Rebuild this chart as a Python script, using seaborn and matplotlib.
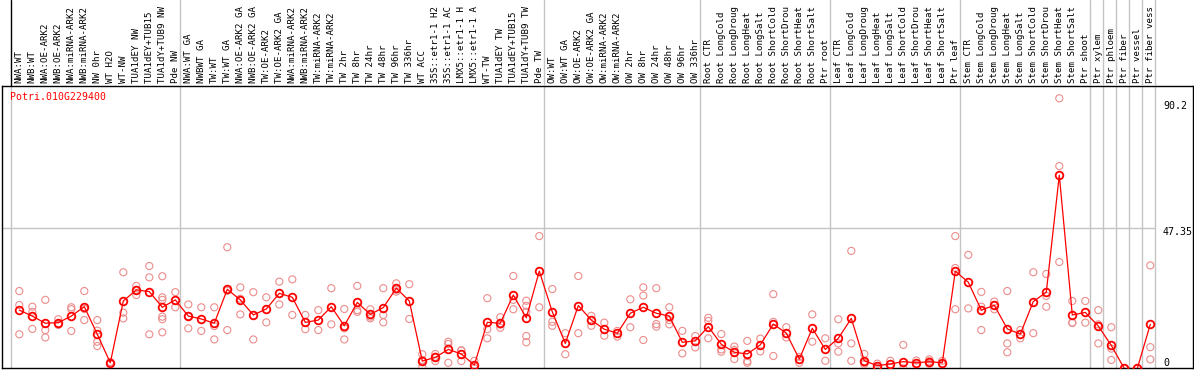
import numpy as np
import pandas as pd
import matplotlib.pyplot as plt
import seaborn as sns

# ---- data ----
gene = "Potri.010G229400"

samples = [
    "NWA:WT", "NWB:WT", "NWA:OE-ARK2", "NWB:OE-ARK2", "NWA:miRNA-ARK2", "NWB:miRNA-ARK2",
    "NW 0hr", "WT H2O", "WT-NW", "TUA1dEY NW", "TUA1dEY+TUB15 NW", "TUA1dY+TUB9 NW", "Pde NW",
    "NWA:WT GA", "NWBWT GA", "TW:WT", "TW:WT GA", "NWA:OE-ARK2 GA", "NWB:OE-ARK2 GA",
    "TW:OE-ARK2", "TW:OE-ARK2 GA", "NWA:miRNA-ARK2", "NWB:miRNA-ARK2", "TW:miRNA-ARK2",
    "TW:miRNA-ARK2", "TW 2hr", "TW 8hr", "TW 24hr", "TW 48hr", "TW 96hr", "TW 336hr",
    "WT ACC", "35S::etr1-1 H2O", "35S::etr1-1 ACC", "LMX5::etr1-1 H2O", "LMX5::etr1-1 ACC",
    "WT-TW", "TUA1dEY TW", "TUA1dEY+TUB15 TW", "TUA1dY+TUB9 TW", "Pde TW",
    "OW:WT", "OW:WT GA", "OW:OE-ARK2", "OW:OE-ARK2 GA", "OW:miRNA-ARK2", "OW:miRNA-ARK2",
    "OW 2hr", "OW 8hr", "OW 24hr", "OW 48hr", "OW 96hr", "OW 336hr",
    "Root CTR", "Root LongCold", "Root LongDrought", "Root LongHeat", "Root LongSalt",
    "Root ShortCold", "Root ShortDrought", "Root ShortHeat", "Root ShortSalt", "Ptr root",
    "Leaf CTR", "Leaf LongCold", "Leaf LongDrought", "Leaf LongHeat", "Leaf LongSalt",
    "Leaf ShortCold", "Leaf ShortDrought", "Leaf ShortHeat", "Leaf ShortSalt", "Ptr leaf",
    "Stem CTR", "Stem LongCold", "Stem LongDrought", "Stem LongHeat", "Stem LongSalt",
    "Stem ShortCold", "Stem ShortDrought", "Stem ShortHeat", "Stem ShortSalt", "Ptr shoot",
    "Ptr xylem", "Ptr phloem", "Ptr fiber", "Ptr vessel", "Ptr fiber vessel",
]

group_sizes = [13, 28, 12, 10, 10, 10, 1, 1, 1, 1, 1]

means = [
    18.5, 16.4, 13.9, 14.1, 16.4, 19.7, 10.0, 0.0, 21.7, 25.6, 25.0, 19.5, 22.1,
    16.4, 15.4, 13.9, 25.8, 22.1, 16.8, 18.9, 24.4, 23.0, 14.2, 15.0, 19.7, 13.0, 21.2,
    17.0, 19.4, 26.2, 21.7, 0.6, 1.9, 4.7, 3.1, -0.8, 14.2, 13.9, 23.8, 15.8, 32.2,
    17.9, 6.8, 20.1, 15.0, 11.8, 10.4, 17.4, 19.5, 17.4, 16.4, 7.2, 7.7,
    12.7, 6.5, 3.7, 3.1, 6.3, 13.6, 10.4, 1.3, 12.1, 4.7,
    8.6, 15.6, 0.7, -1.0, -0.4, 0.4, 0.0, 0.4, 0.0, 32.2,
    28.3, 18.5, 20.2, 11.9, 10.1, 21.5, 24.8, 65.9, 16.8, 17.7,
    12.9, 6.1, -2.0, -2.0, 13.5,
]

replicates = [
    [25.2, 20.3, 10.0], [19.7, 17.9, 11.9], [22.1, 11.5, 8.9], [15.3, 13.7, 13.3],
    [19.5, 18.8, 11.2], [25.2, 18.9, 15.0], [15.0, 11.3, 7.4, 5.9], [0.3, 0.0, -0.4],
    [31.8, 17.6, 15.6], [27.0, 25.6, 23.8], [34.0, 30.0, 10.0],
    [30.4, 23.0, 22.1, 16.2, 15.3, 10.7], [24.8, 19.5],
    [20.5, 16.4, 12.1], [19.5, 11.2], [19.5, 12.9, 8.2], [40.6, 25.3, 11.5],
    [26.5, 22.5, 17.0], [24.8, 8.2], [23.0, 14.2], [28.5, 20.5], [29.3, 16.8],
    [16.8, 11.8], [18.5, 11.5], [26.2, 13.5], [18.9, 12.1, 8.2], [27.0, 18.5, 17.9],
    [18.8, 16.2, 15.6], [26.2, 16.8, 14.2], [27.9, 25.7, 25.0], [27.6, 15.4],
    [3.0, 1.0, -1.5], [3.1, 2.1, 0.6], [7.4, 6.6, 0.0], [4.4, 4.3, 0.6], [0.7, -1.9],
    [22.7, 11.8, 8.6], [16.0, 13.4, 12.3], [30.5, 22.1, 18.8],
    [21.8, 20.0, 17.9, 9.4, 7.2], [44.5, 19.5],
    [25.9, 14.4, 13.0], [10.4, 3.0], [30.5, 10.4], [16.5, 13.0], [14.1, 9.5],
    [11.2, 9.2], [22.3, 12.5], [26.5, 23.6, 8.0], [26.2, 13.6, 12.7],
    [19.5, 15.0, 13.5], [11.2, 3.3], [9.4, 5.4],
    [15.8, 14.7, 8.6], [10.1, 4.7, 3.9], [5.7, 4.5, 1.3], [7.7, 0.6, 0.0], [8.5, 4.0],
    [24.1, 14.4, 2.4], [12.5, 8.9], [2.1, 0.0], [17.0, 7.4], [8.6, 0.7],
    [15.3, 6.8, 3.9], [39.3, 6.8, 0.7], [3.1, 0.0, -0.5], [-0.3, -1.8], [0.7, -1.6],
    [6.3, -2.0, -3.0], [0.8, -0.8], [1.2, 0.5, -0.4], [0.7, -0.6], [44.5, 33.3, 18.8],
    [37.9, 19.1], [24.9, 19.7, 11.5], [21.5, 20.2, 18.8], [25.2, 6.8, 3.7], [11.5, 8.6],
    [31.8, 10.4], [31.2, 23.5, 19.7], [92.9, 69.1, 35.4], [21.7, 14.1, 14.0], [21.7, 14.1],
    [18.5, 13.5, 6.8], [12.5, 5.0, 1.0], [-2.0], [-2.0], [34.2, 5.5, 1.2],
]

tick_values = [0, 47.35, 90.2]
tick_labels = ["0", "47.35", "90.2"]

# ---- layout ----
sns.set_style("white")
mono = "DejaVu Sans Mono"
grid_col = "#c4c4c4"

W, H = 1194, 370
fig = plt.figure(figsize=(W / 100, H / 100), dpi=100)
ax = fig.add_axes([2 / W, 2 / H, 1191 / W, 282 / H])
lab = fig.add_axes([2 / W, 284 / H, 1191 / W, 86 / H])

xmin = -17.3 / 13
xmax = xmin + 1191 / 13
ymin = -1.83
ymax = ymin + 282 / 2.847
ax.set_xlim(xmin, xmax)
ax.set_ylim(ymin, ymax)
lab.set_xlim(xmin, xmax)
lab.set_ylim(0, 1)
lab.axis("off")

edges = np.concatenate([[0], np.cumsum(group_sizes)]) - 0.62
for k, e in enumerate(edges):
    ax.axvline(e, color=grid_col, lw=1, zorder=1)
    lab.axvline(e, color="black" if k == 0 else grid_col, lw=1, zorder=1)
ax.hlines(47.35, xmin, edges[-1], color=grid_col, lw=1, zorder=1)

# replicate circles
rep_df = pd.DataFrame({
    "idx": [i for i, r in enumerate(replicates) for _ in r],
    "value": [v for r in replicates for v in r],
})
sns.scatterplot(data=rep_df, x="idx", y="value", ax=ax, marker="o", s=26,
                facecolors="none", edgecolor="#ec8c8c", linewidth=0.8,
                zorder=3, legend=False)

# mean line
sns.lineplot(x=np.arange(len(means)), y=means, ax=ax, color="red", lw=0.9,
             marker="o", ms=5.5, mfc="none", mec="red", mew=1.3, zorder=4)

ax.set_xticks([])
ax.set_yticks([])
ax.set_xlabel("")
ax.set_ylabel("")
for sp in ax.spines.values():
    sp.set_color("black")
    sp.set_linewidth(1)
    sp.set_visible(True)

for v, t in zip(tick_values, tick_labels):
    off = -3 if t == "47.35" else 0
    ax.annotate(t, (edges[-1] + 0.6, v), xytext=(0, off), textcoords="offset points",
                ha="left", va="center", fontsize=7.2, family=mono, color="black")

ax.text(0.0067, 0.961, gene, transform=ax.transAxes, color="red",
        fontsize=7.1, family=mono, va="center", ha="left")

# the header strip only has room for 14 characters, as in the original
for i, s in enumerate(samples):
    lab.text(i, 0.03, s[:14], rotation=90, ha="center", va="bottom",
             fontsize=6.6, family=mono, color="black")

fig.savefig("out.png", dpi=100)
